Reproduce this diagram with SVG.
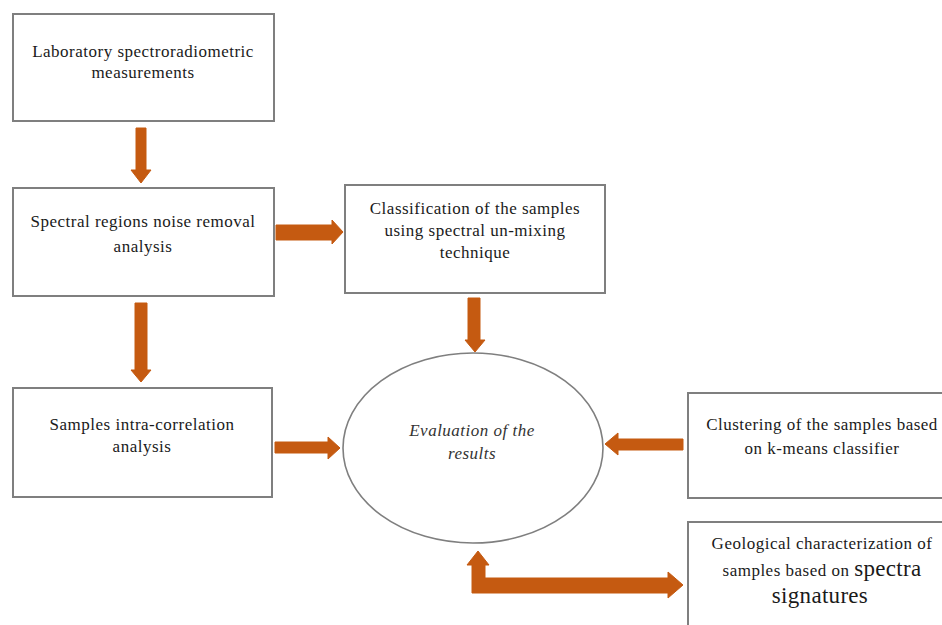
<svg xmlns="http://www.w3.org/2000/svg" width="942" height="625" viewBox="0 0 942 625">
<style>
.box{fill:#fff;stroke:#7f7f7f;stroke-width:2}
.ell{fill:#fff;stroke:#7f7f7f;stroke-width:1.6}
.t{font-family:"Liberation Serif","Times New Roman",serif;font-size:17px;letter-spacing:0.5px;fill:#1a1a1a;text-anchor:middle}
.it{font-style:italic;fill:#333}
.big{font-size:23px;letter-spacing:0.3px}
.arr{fill:#C55A11;stroke:#C55A11;stroke-width:1;stroke-linejoin:round}
</style>
<rect width="942" height="625" fill="#fff"/>
<g id="connectors">
<polygon class="arr" points="136,128 146,128 146,170 151,170 141,183 131,170 136,170"/>
<polygon class="arr" points="135,303 147,303 147,370 151,370 141,382 131,370 135,370"/>
<polygon class="arr" points="276,225 332,225 332,220 343,232 332,244 332,240 276,240"/>
<polygon class="arr" points="275,442 328,442 328,437 340,448 328,459 328,453 275,453"/>
<polygon class="arr" points="468,298 480,298 480,340 485,340 475,352 465,340 468,340"/>
<polygon class="arr" points="683,439 618,439 618,433 605,444 618,455 618,450 683,450"/>
<polygon class="arr" points="478,551 489,565 485,565 485,578 668,578 668,572 683,585 668,598 668,593 472,593 472,565 467,565"/>
</g>
<g id="lab">
<rect class="box" x="13" y="14" width="261" height="107"/>
<text class="t" x="143" y="57">Laboratory spectroradiometric</text>
<text class="t" x="143" y="78">measurements</text>
</g>
<g id="noise">
<rect class="box" x="13" y="188" width="261" height="108"/>
<text class="t" x="143" y="227">Spectral regions noise removal</text>
<text class="t" x="143" y="252">analysis</text>
</g>
<g id="classification">
<rect class="box" x="345" y="185" width="260" height="108"/>
<text class="t" x="475" y="214">Classification of the samples</text>
<text class="t" x="475" y="236">using spectral un-mixing</text>
<text class="t" x="475" y="258">technique</text>
</g>
<g id="intra">
<rect class="box" x="13" y="388" width="259" height="109"/>
<text class="t" x="142" y="430">Samples intra-correlation</text>
<text class="t" x="142" y="452">analysis</text>
</g>
<g id="evaluation">
<ellipse class="ell" cx="473" cy="448" rx="130" ry="95"/>
<text class="t it" x="472" y="436">Evaluation of the</text>
<text class="t it" x="472" y="459">results</text>
</g>
<g id="clustering">
<rect class="box" x="688" y="393" width="270" height="105"/>
<text class="t" x="822" y="430">Clustering of the samples based</text>
<text class="t" x="822" y="454">on k-means classifier</text>
</g>
<g id="geological">
<rect class="box" x="688" y="522" width="270" height="120"/>
<text class="t" x="822" y="549">Geological characterization of</text>
<text class="t" x="822" y="576">samples based on <tspan class="big">spectra</tspan></text>
<text class="t big" x="820" y="603">signatures</text>
</g>
</svg>
